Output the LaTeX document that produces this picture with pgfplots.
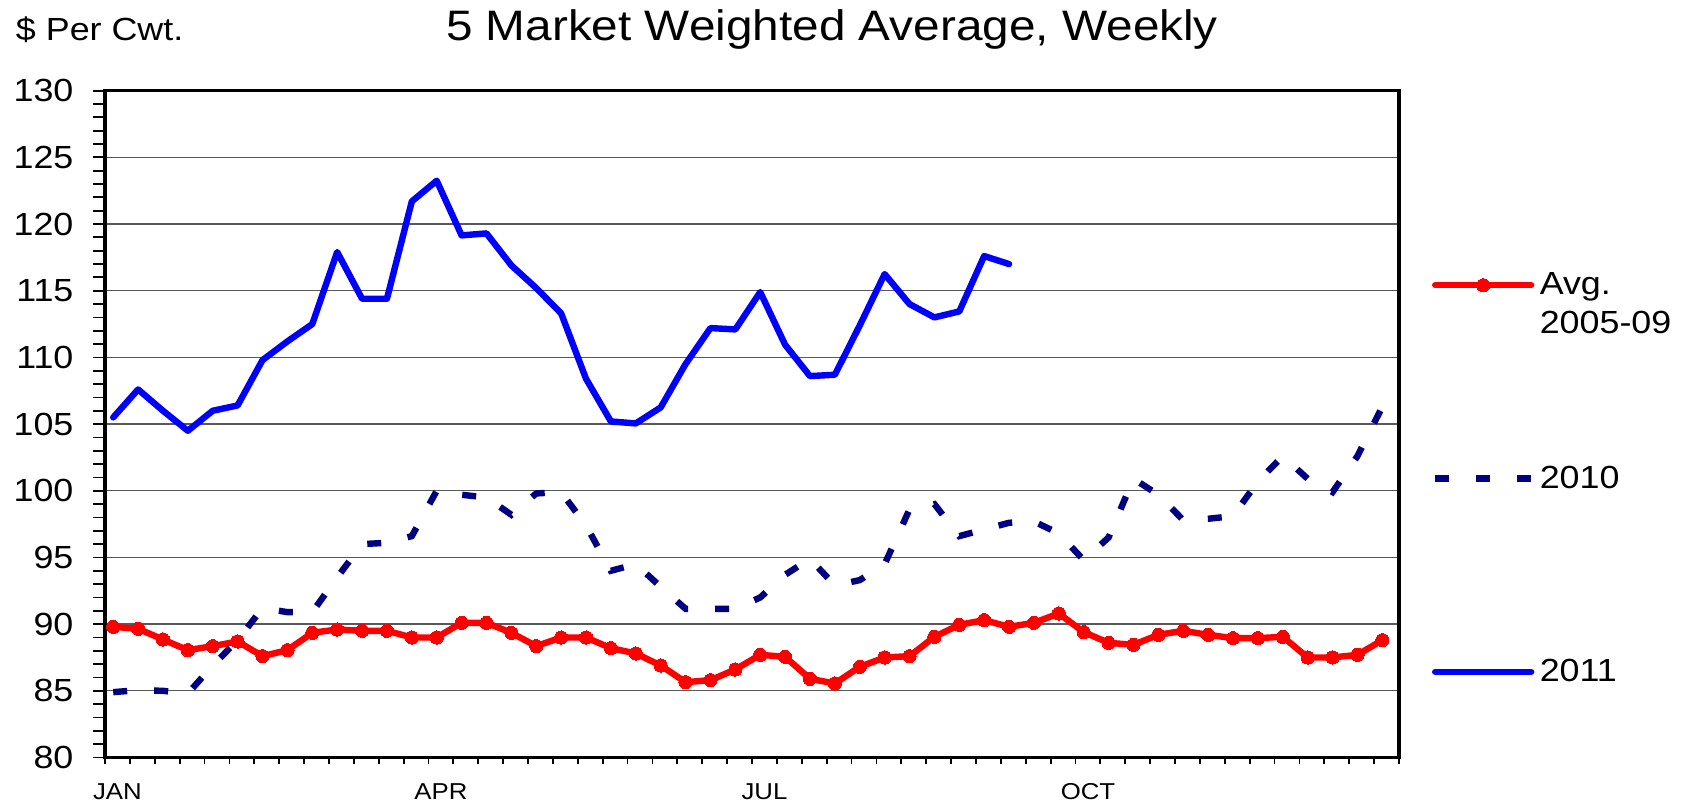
\documentclass[border=0pt]{standalone}
\usepackage{fontspec}
\setmainfont{Liberation Sans}[FakeStretch=1.12]
\usepackage{pgfplots}
\usepackage{pgfplotstable}
\pgfplotsset{compat=1.18}
\definecolor{navy}{HTML}{000080}
\definecolor{pureblue}{HTML}{0000FF}
\definecolor{purered}{HTML}{FF0000}

\pgfplotstableread{
w v
1 89.8
2 89.65
3 88.85
4 88.05
5 88.35
6 88.7
7 87.6
8 88.05
9 89.35
10 89.6
11 89.5
12 89.5
13 89.0
14 89.0
15 90.1
16 90.1
17 89.35
18 88.35
19 89.0
20 89.0
21 88.2
22 87.8
23 86.9
24 85.65
25 85.8
26 86.6
27 87.7
28 87.55
29 85.9
30 85.55
31 86.8
32 87.5
33 87.6
34 89.05
35 89.95
36 90.3
37 89.8
38 90.1
39 90.8
40 89.4
41 88.6
42 88.45
43 89.2
44 89.5
45 89.2
46 88.95
47 88.95
48 89.05
49 87.5
50 87.5
51 87.7
52 88.8
}\avgdata

\pgfplotstableread{
w v
1 84.9
2 85.05
3 85.0
4 84.8
5 86.9
6 88.8
7 91.2
8 90.9
9 90.9
10 93.5
11 96.0
12 96.1
13 96.6
14 100.0
15 99.7
16 99.5
17 98.2
18 99.8
19 99.9
20 97.4
21 94.0
22 94.5
23 92.8
24 91.15
25 91.15
26 91.15
27 92.0
28 93.7
29 94.9
30 92.9
31 93.3
32 94.5
33 98.6
34 99.0
35 96.6
36 97.1
37 97.6
38 97.7
39 96.8
40 94.8
41 96.5
42 100.9
43 99.7
44 97.8
45 97.9
46 98.1
47 100.7
48 102.6
49 100.9
50 99.9
51 102.6
52 106.3
}\tenData

\pgfplotstableread{
w v
1 105.5
2 107.6
3 106.0
4 104.5
5 106.0
6 106.4
7 109.8
8 111.2
9 112.5
10 117.9
11 114.4
12 114.4
13 121.7
14 123.25
15 119.15
16 119.3
17 116.9
18 115.2
19 113.3
20 108.4
21 105.2
22 105.05
23 106.25
24 109.5
25 112.2
26 112.1
27 114.9
28 110.95
29 108.6
30 108.7
31 112.4
32 116.25
33 114.0
34 113.0
35 113.45
36 117.6
37 117.0
}\elevenData

\begin{document}
\begin{tikzpicture}
\useasboundingbox (0,0) rectangle (844.5pt,403.5pt);
\node[anchor=base west, inner sep=0pt] at (7.8pt,383pt) {\fontsize{16}{19}\selectfont \$ Per Cwt.};
\node[anchor=base, inner sep=0pt] at (416pt,383pt) {\fontsize{21.3}{25}\selectfont 5 Market Weighted Average, Weekly};
\begin{axis}[
  at={(52.5pt,24.75pt)}, anchor=south west,
  scale only axis, width=647pt, height=333.4pt,
  xmin=0.67, xmax=52.67, ymin=80, ymax=130,
  /pgf/number format/assume math mode=true,
  xtick={1.17,14.17,27.17,40.17},
  xticklabels={JAN,APR,JUL,OCT},
  xticklabel style={font=\fontsize{11.5}{13}\selectfont, anchor=base, inner sep=0pt, yshift=-21.1pt},
  ytick={80,85,...,130},
  minor ytick={80,81,...,130},
  yticklabel style={font=\fontsize{16}{19}\selectfont, anchor=east, inner sep=0pt, xshift=-15.6pt},
  tick align=outside,
  tick pos=left,
  major tick length=0pt,
  minor tick length=6pt,
  tick style={line width=0.9pt, black},
  extra x ticks={0.67,1.67,...,52.67},
  extra x tick labels={},
  extra x tick style={major tick length=3.5pt, grid=none, tick style={line width=0.9pt, black}},
  ymajorgrids,
  major grid style={line width=0.65pt, black!65},
  axis line style={line width=1.7pt},
  legend cell align=left,
  legend image code/.code={\draw[mark repeat=2,mark phase=2,#1] plot coordinates {(0pt,0pt) (24pt,0pt) (48pt,0pt)};},
  legend style={at={(1.0255,0.727)}, anchor=north west, draw=none, fill=none,
     inner sep=0pt, outer sep=0pt, row sep=84pt,
     nodes={inner sep=0pt, font=\fontsize{16}{19.2}\selectfont},
     /tikz/every odd column/.append style={column sep=2.7pt}},
]
\addplot[purered, line width=3.2pt, line join=round, line cap=round, mark=*, mark size=3.3pt, mark options={solid, fill=purered, draw=purered, line width=0pt}] table[x=w, y=v] {\avgdata};
\addlegendentry{\rlap{\raisebox{-19.2pt}[0pt][0pt]{2005-09}}\raisebox{0pt}[\height][0pt]{Avg.}}
\addplot[navy, line width=3.2pt, dash pattern=on 7pt off 13.5pt, dash phase=0pt, line cap=butt] table[x=w, y=v] {\tenData};
\addlegendentry{2010}
\addplot[pureblue, line width=3.2pt, line join=round, line cap=round] table[x=w, y=v] {\elevenData};
\addlegendentry{2011}
\end{axis}
\end{tikzpicture}
\end{document}
